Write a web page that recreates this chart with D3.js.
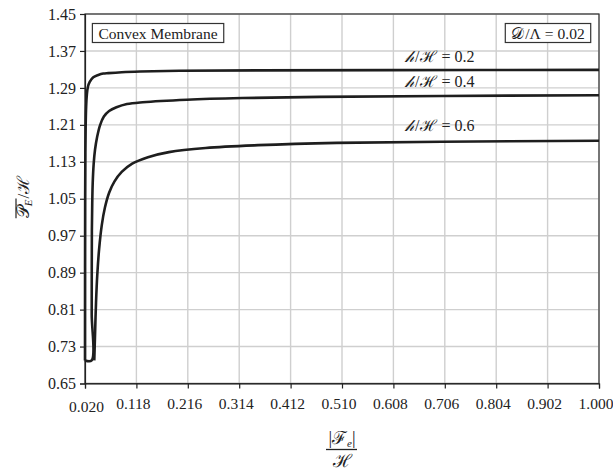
<!DOCTYPE html>
<html>
<head>
<meta charset="utf-8">
<script src="https://cdn.jsdelivr.net/npm/d3@7"></script>
<style>
  html, body { margin: 0; padding: 0; background: #fff; }
  svg text { font-family: "Liberation Serif", "DejaVu Serif", serif; fill: #222; }
</style>
</head>
<body>
<svg id="chart" width="613" height="471"></svg>
<script>
// ---- data ----
const xTicks = [0.020, 0.118, 0.216, 0.314, 0.412, 0.510, 0.608, 0.706, 0.804, 0.902, 1.000];
const yTicks = [0.65, 0.73, 0.81, 0.89, 0.97, 1.05, 1.13, 1.21, 1.29, 1.37, 1.45];

// h/H = 0.2
const x02 = [0.020, 0.0201, 0.0203, 0.0207, 0.0213, 0.0222, 0.0235, 0.0255, 0.0290, 0.0358, 0.0454, 0.0549, 0.0644, 0.090, 0.125, 0.200, 0.350, 0.600, 1.000];
const y02 = [0.700, 0.900, 1.050, 1.150, 1.210, 1.250, 1.275, 1.292, 1.303, 1.313, 1.318, 1.321, 1.322, 1.324, 1.3255, 1.327, 1.328, 1.3285, 1.329];

// h/H = 0.4
const x04 = [0.020, 0.0328, 0.0328, 0.0329, 0.0331, 0.0338, 0.0347, 0.0365, 0.0391, 0.0430, 0.0486, 0.056, 0.066, 0.080, 0.100, 0.130, 0.2145, 0.320, 0.468, 0.700, 1.000];
const y04 = [0.700, 0.700, 0.800, 0.900, 0.980, 1.040, 1.084, 1.125, 1.156, 1.183, 1.209, 1.228, 1.240, 1.248, 1.255, 1.259, 1.2645, 1.268, 1.2705, 1.2725, 1.2742];

// h/H = 0.6
const x06 = [0.0377, 0.0390, 0.0410, 0.0435, 0.0470, 0.0520, 0.0580, 0.0660, 0.0760, 0.090, 0.110, 0.140, 0.180, 0.250, 0.350, 0.500, 0.700, 1.000];
const y06 = [0.700, 0.750, 0.825, 0.887, 0.942, 0.993, 1.031, 1.063, 1.087, 1.108, 1.126, 1.140, 1.151, 1.160, 1.166, 1.171, 1.1735, 1.1755];

const curveLabels = ["0.2", "0.4", "0.6"];

// ---- layout ----
const svg = d3.select("#chart");
const pL = 85, pR = 599, pT = 14, pB = 383.5;
const FS = 15.5;

const x = d3.scaleLinear().domain([0.02, 1.0]).range([pL, pR]);
const y = d3.scaleLinear().domain([0.65, 1.45]).range([pB, pT]);

// grid
svg.append("g").selectAll("line").data(xTicks).join("line")
  .attr("x1", d => x(d)).attr("x2", d => x(d))
  .attr("y1", pT).attr("y2", pB)
  .attr("stroke", "#cfcfcf").attr("stroke-width", 1.4);
svg.append("g").selectAll("line").data(yTicks).join("line")
  .attr("x1", pL).attr("x2", pR)
  .attr("y1", d => y(d)).attr("y2", d => y(d))
  .attr("stroke", "#cfcfcf").attr("stroke-width", 1.4);

// frame
svg.append("rect").attr("x", pL).attr("y", pT)
  .attr("width", pR - pL).attr("height", pB - pT)
  .attr("fill", "none").attr("stroke", "#333").attr("stroke-width", 1.2);

// axes
const xAxis = d3.axisBottom(x).tickValues(xTicks).tickFormat(d3.format(".3f")).tickSize(5).tickPadding(8);
const gx = svg.append("g").attr("transform", `translate(0,${pB})`).call(xAxis);
const yAxis = d3.axisLeft(y).tickValues(yTicks).tickFormat(d3.format(".2f")).tickSize(5).tickPadding(4);
const gy = svg.append("g").attr("transform", `translate(${pL},0)`).call(yAxis);
[gx, gy].forEach(g => {
  g.select(".domain").attr("stroke", "#222").attr("stroke-width", 1.2);
  g.selectAll(".tick line").attr("stroke", "#222").attr("stroke-width", 1.2);
  g.selectAll(".tick text").attr("font-family", "Liberation Serif").attr("font-size", FS).attr("fill", "#222");
});
gy.selectAll(".tick text").attr("font-size", 16);
gx.selectAll(".tick text").attr("dx", (d, i) => i === 0 ? 1 : -3.5)
  .attr("dy", (d, i) => i === 0 ? "1.0em" : "0.78em");

// curves
const line = d3.line().x(d => x(d[0])).y(d => y(d[1])).curve(d3.curveCatmullRom.alpha(0.5));
const series = [d3.zip(x02, y02), d3.zip(x04, y04), d3.zip(x06, y06)];
svg.append("g").selectAll("path").data(series).join("path")
  .attr("d", line)
  .attr("fill", "none").attr("stroke", "#1e1e1e").attr("stroke-width", 2.6)
  .attr("stroke-linejoin", "round");

// curve labels
const labelPos = [[405, 62], [405, 87], [405, 131]];
curveLabels.forEach((v, i) => {
  const t = svg.append("text").attr("x", labelPos[i][0]).attr("y", labelPos[i][1]).attr("font-size", 16);
  t.append("tspan").attr("font-style", "italic").text("𝒽");
  t.append("tspan").attr("dx", 1).text("/");
  t.append("tspan").attr("dx", 1).text("ℋ");
  t.append("tspan").attr("dx", 4).text("=");
  t.append("tspan").attr("dx", 4).text(v);
});

// boxes
function boxText(xc, yb, build) {
  const r = svg.append("rect");
  const t = svg.append("text").attr("x", xc).attr("y", yb).attr("font-size", FS).attr("text-anchor", "middle");
  build(t);
  const bb = t.node().getBBox();
  r.attr("x", bb.x - 6).attr("y", bb.y - 1)
    .attr("width", bb.width + 12).attr("height", bb.height + 2)
    .attr("fill", "#fff").attr("stroke", "#333").attr("stroke-width", 1.2);
}
boxText(158, 38.5, t => t.text("Convex Membrane"));
boxText(548, 38.5, t => {
  t.append("tspan").text("𝒟");
  t.append("tspan").attr("dx", 1).text("/Λ");
  t.append("tspan").attr("dx", 4).text("=");
  t.append("tspan").attr("dx", 4).text("0.02");
});

// y label
const ylT = "translate(29,197) rotate(-90)";
const yl = svg.append("text").attr("transform", ylT)
  .attr("text-anchor", "middle").attr("font-size", 17);
const p1 = yl.append("tspan").text("𝒫");
const p2 = yl.append("tspan").attr("font-size", 11).attr("font-style", "italic").attr("dy", 3).text("E");
yl.append("tspan").attr("dy", -3).attr("dx", 1).text("/ℋ");
{
  const bb = yl.node().getBBox();
  const len = p1.node().getComputedTextLength() + p2.node().getComputedTextLength();
  svg.append("line").attr("transform", ylT)
    .attr("x1", bb.x).attr("x2", bb.x + len + 1)
    .attr("y1", bb.y + 2).attr("y2", bb.y + 2)
    .attr("stroke", "#222").attr("stroke-width", 1.2);
}

// x label (fraction)
const xc = (pL + pR) / 2;
const num = svg.append("text").attr("x", xc).attr("y", 444).attr("text-anchor", "middle").attr("font-size", 18);
num.append("tspan").text("|ℱ");
num.append("tspan").attr("font-size", 11).attr("font-style", "italic").attr("dy", 3).text("e");
num.append("tspan").attr("dy", -3).text("|");
svg.append("line").attr("x1", xc - 16).attr("x2", xc + 15).attr("y1", 449.5).attr("y2", 449.5)
  .attr("stroke", "#222").attr("stroke-width", 1.3);
svg.append("text").attr("x", xc).attr("y", 467).attr("text-anchor", "middle").attr("font-size", 18).text("ℋ");
</script>
</body>
</html>
